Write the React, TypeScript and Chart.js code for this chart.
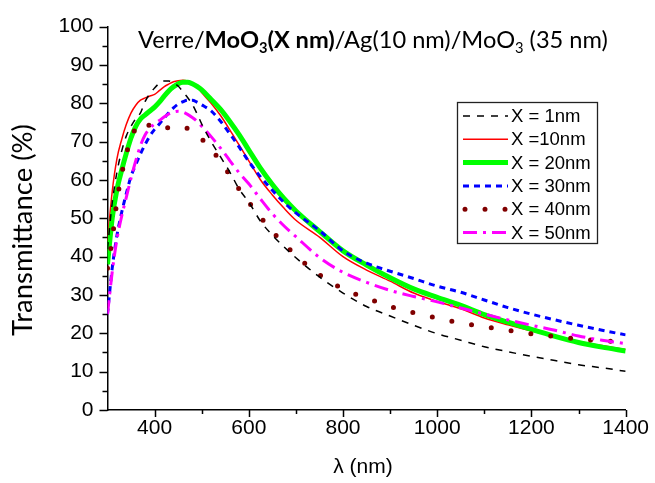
import React, { useEffect, useRef } from 'react';
import { Chart, registerables } from 'chart.js';

Chart.register(...registerables);

const wavelengths = [300, 310, 320, 330, 340, 350, 360, 370, 380, 390, 400, 410, 420, 430, 440, 450, 460, 470, 480, 490, 500, 520, 540, 560, 580, 600, 625, 650, 675, 700, 750, 800, 850, 900, 950, 1000, 1050, 1100, 1150, 1200, 1250, 1300, 1350, 1400];

const seriesX1 = [42, 54, 62, 67.5, 71.5, 74, 76, 77.5, 80.5, 82.5, 84, 85.2, 85.8, 85.8, 85.3, 84.5, 83, 81.5, 79.7, 77.3, 74.6, 70, 66, 62, 57.5, 54.2, 49.2, 45.6, 42.5, 39.7, 34.7, 30.5, 27, 24.5, 22.1, 19.9, 18.2, 16.5, 15.2, 14, 12.9, 11.8, 11, 10.1];
const seriesX10 = [44, 57, 65.5, 70.5, 74.5, 77.5, 79.5, 80.8, 81.4, 81.9, 82.3, 83.3, 84.3, 85, 85.6, 85.9, 86, 85.8, 85.2, 84.4, 82.8, 80, 76.8, 73, 69, 65, 60, 56.1, 52.6, 49.5, 45.1, 40, 36.5, 33.6, 30.5, 28.3, 26.4, 24, 22.2, 20.6, 19.2, 17.9, 16.8, 15.8];
const seriesX20 = [38, 50, 57.5, 62.5, 67, 71, 74, 75.9, 77, 78, 79, 80.3, 81.8, 83.2, 84.3, 85.1, 85.5, 85.5, 85.1, 84.4, 83.5, 81, 78.4, 75.2, 71.7, 67.8, 63, 58.8, 55.1, 51.9, 46.6, 41.5, 37.8, 34.5, 31.6, 29.4, 27.3, 24.9, 22.9, 21, 19.2, 17.6, 16.4, 15.4];
const seriesX30 = [25, 37, 45.5, 51.5, 56.5, 61, 64, 66.8, 69.3, 71.5, 73.2, 74.6, 76.1, 77.5, 78.8, 79.8, 80.4, 80.8, 80.8, 80.3, 79.6, 78, 75.3, 72, 68.5, 64.8, 60.8, 57.3, 54.1, 51.4, 46.8, 41.5, 38.3, 36.2, 34.3, 32.3, 30.7, 28.7, 26.7, 25, 23.5, 22.1, 20.8, 19.6];
const seriesX40 = [37, 44.5, 54.5, 61.5, 66.8, 70.8, 73.5, 75, 74.8, 74.1, 73.4, 73.1, 73.3, 73.7, 74, 74.1, 73.9, 73.4, 72.7, 71.8, 70.7, 68, 64.9, 61.2, 57.5, 54.2, 50.3, 46.6, 43.4, 40.3, 35.3, 31.6, 29.2, 27, 25.4, 24, 22.7, 21.7, 20.8, 19.9, 19.2, 18.5, 18.1, 17.7];
const seriesX50 = [25, 36, 44.5, 50.5, 55.5, 60.5, 65, 69, 71.8, 73.5, 74.6, 75.5, 76.4, 77.2, 77.7, 77.9, 77.7, 77.1, 76.3, 75.3, 74, 71.3, 68.3, 65, 61.8, 59, 55, 51.2, 48, 45.2, 39.8, 35.9, 33.3, 31.2, 29.6, 28.2, 26.6, 25, 23.5, 22.1, 20.8, 19.3, 18.2, 17.3];

const legendLabels = ['X = 1nm', 'X =10nm', 'X = 20nm', 'X = 30nm', 'X = 40nm', 'X = 50nm'];
const xTicks = [400, 600, 800, 1000, 1200, 1400];
const xMinorTicks = [500, 700, 900, 1100, 1300];
const yTicks = [0, 10, 20, 30, 40, 50, 60, 70, 80, 90, 100];
const yMinorTicks = [5, 15, 25, 35, 45, 55, 65, 75, 85, 95];
const xTitle = 'λ (nm)';
const yTitle = 'Transmittance (%)';
const titleParts = [
  { text: 'Verre/', bold: false, sub: false },
  { text: 'MoO', bold: true, sub: false },
  { text: '3', bold: true, sub: true },
  { text: '(X nm)', bold: true, sub: false },
  { text: '/Ag(10 nm)/MoO', bold: false, sub: false },
  { text: '3', bold: false, sub: true },
  { text: ' (35 nm)', bold: false, sub: false },
];

const TITLE_FONT = 'Lato';
const ARIAL = '"Liberation Sans", Arial, sans-serif';

const styles = [
  { color: '#000000', width: 1.5, dash: [7, 7], cap: 'butt', order: 0 },
  { color: '#ff0000', width: 1.5, dash: [], cap: 'butt', order: 5 },
  { color: '#00ff00', width: 5, dash: [], cap: 'butt', order: 4 },
  { color: '#0000ff', width: 3, dash: [6, 5], cap: 'butt', order: 3 },
  { color: '#800000', width: 5, dash: [0, 20], cap: 'round', order: 2 },
  { color: '#ff00ff', width: 3, dash: [14, 6, 3, 6], cap: 'butt', order: 1 },
];

const allSeries = [seriesX1, seriesX10, seriesX20, seriesX30, seriesX40, seriesX50];

const decorPlugin = {
  id: 'decor',
  afterDraw(chart: any) {
    const { ctx, chartArea, scales } = chart;
    const xs = scales.x;
    const ys = scales.y;
    ctx.save();
    ctx.strokeStyle = '#000';
    ctx.lineWidth = 1.5;
    ctx.setLineDash([]);
    ctx.beginPath();
    yTicks.forEach((v) => {
      const p = Math.round(ys.getPixelForValue(v)) + 0.5;
      ctx.moveTo(chartArea.left - 8, p);
      ctx.lineTo(chartArea.left, p);
    });
    yMinorTicks.forEach((v) => {
      const p = Math.round(ys.getPixelForValue(v)) + 0.5;
      ctx.moveTo(chartArea.left - 5, p);
      ctx.lineTo(chartArea.left, p);
    });
    xTicks.forEach((v) => {
      const p = Math.round(xs.getPixelForValue(v)) + 0.5;
      ctx.moveTo(p, chartArea.bottom);
      ctx.lineTo(p, chartArea.bottom + 7);
    });
    xMinorTicks.forEach((v) => {
      const p = Math.round(xs.getPixelForValue(v)) + 0.5;
      ctx.moveTo(p, chartArea.bottom);
      ctx.lineTo(p, chartArea.bottom + 4);
    });
    ctx.stroke();

    const targetW = 470;
    const base = 24;
    const fontFor = (part: any, size: number) =>
      `${part.bold ? 'bold ' : ''}${part.sub ? size * 0.62 : size}px ${TITLE_FONT}`;
    let w = 0;
    titleParts.forEach((p) => {
      ctx.font = fontFor(p, base);
      w += ctx.measureText(p.text).width;
    });
    const size = (base * targetW) / w;
    let tx = 138;
    const ty = 48;
    ctx.fillStyle = '#000';
    ctx.textBaseline = 'alphabetic';
    ctx.textAlign = 'left';
    titleParts.forEach((p) => {
      ctx.font = fontFor(p, size);
      ctx.fillText(p.text, tx, p.sub ? ty + size * 0.2 : ty);
      tx += ctx.measureText(p.text).width;
    });

    ctx.save();
    ctx.translate(23, 230);
    ctx.rotate(-Math.PI / 2);
    ctx.font = `22px ${TITLE_FONT}`;
    const yw = ctx.measureText(yTitle).width;
    const ysz = (22 * 212) / yw;
    ctx.font = `${ysz}px ${TITLE_FONT}`;
    ctx.textAlign = 'center';
    ctx.textBaseline = 'middle';
    ctx.fillText(yTitle, 0, 0);
    ctx.restore();

    ctx.font = `21px ${ARIAL}`;
    ctx.textAlign = 'center';
    ctx.textBaseline = 'middle';
    ctx.fillText(xTitle, 363, 467);

    const bx = 457.5, by = 102.5, bw = 140, bh = 141;
    ctx.fillStyle = '#fff';
    ctx.fillRect(bx, by, bw, bh);
    ctx.strokeStyle = '#222';
    ctx.lineWidth = 1.3;
    ctx.strokeRect(bx, by, bw, bh);
    legendLabels.forEach((label, i) => {
      const st = styles[i];
      const yy = 116 + i * 23.3;
      ctx.beginPath();
      ctx.strokeStyle = st.color;
      ctx.lineWidth = st.width;
      ctx.lineCap = st.cap as CanvasLineCap;
      ctx.setLineDash(st.dash);
      ctx.moveTo(i === 4 ? 465 : 463, yy);
      ctx.lineTo(508, yy);
      ctx.stroke();
      ctx.setLineDash([]);
      ctx.lineCap = 'butt';
      ctx.fillStyle = '#000';
      ctx.font = `18.5px ${ARIAL}`;
      ctx.textAlign = 'left';
      ctx.textBaseline = 'middle';
      ctx.fillText(label, 511, yy + 1);
    });
    ctx.restore();
  },
};

export default function App() {
  const ref = useRef<HTMLCanvasElement | null>(null);
  useEffect(() => {
    const canvas = ref.current;
    if (!canvas) return;
    const datasets = allSeries.map((vals, i) => ({
      label: legendLabels[i],
      data: wavelengths.map((w, j) => ({ x: w, y: vals[j] })),
      borderColor: styles[i].color,
      backgroundColor: styles[i].color,
      borderWidth: styles[i].width,
      borderDash: styles[i].dash,
      borderCapStyle: styles[i].cap,
      pointRadius: 0,
      fill: false,
      cubicInterpolationMode: 'monotone',
      order: styles[i].order,
    }));
    const chart = new Chart(canvas, {
      type: 'line',
      data: { datasets } as any,
      options: {
        animation: false,
        responsive: false,
        events: [],
        layout: { padding: { left: 0, right: 27, top: 24, bottom: 0 } },
        plugins: {
          legend: { display: false },
          title: { display: false },
          tooltip: { enabled: false },
        },
        scales: {
          x: {
            type: 'linear',
            min: 300,
            max: 1400,
            afterBuildTicks: (s: any) => {
              s.ticks = xTicks.map((v) => ({ value: v }));
            },
            afterFit: (s: any) => {
              s.height = 73;
            },
            grid: { display: false, drawTicks: false },
            border: { display: true, color: '#000', width: 1.5 },
            ticks: {
              color: '#000',
              font: { family: ARIAL, size: 21 },
              padding: 6,
              maxRotation: 0,
              autoSkip: false,
              callback: (v: any) => String(v),
            },
          },
          y: {
            type: 'linear',
            min: 0,
            max: 100,
            afterBuildTicks: (s: any) => {
              s.ticks = yTicks.map((v) => ({ value: v }));
            },
            afterFit: (s: any) => {
              s.width = 107.5;
            },
            grid: { display: false, drawTicks: false },
            border: { display: true, color: '#000', width: 1.5 },
            ticks: {
              color: '#000',
              font: { family: ARIAL, size: 21 },
              padding: 14,
              autoSkip: false,
              callback: (v: any) => String(v),
            },
          },
        },
      } as any,
      plugins: [decorPlugin],
    });
    return () => chart.destroy();
  }, []);
  return (
    <div style={{ position: 'fixed', left: 0, top: 0, width: 655, height: 483, background: '#fff' }}>
      <canvas ref={ref} width={655} height={483} style={{ display: 'block', width: 655, height: 483 }} />
    </div>
  );
}
